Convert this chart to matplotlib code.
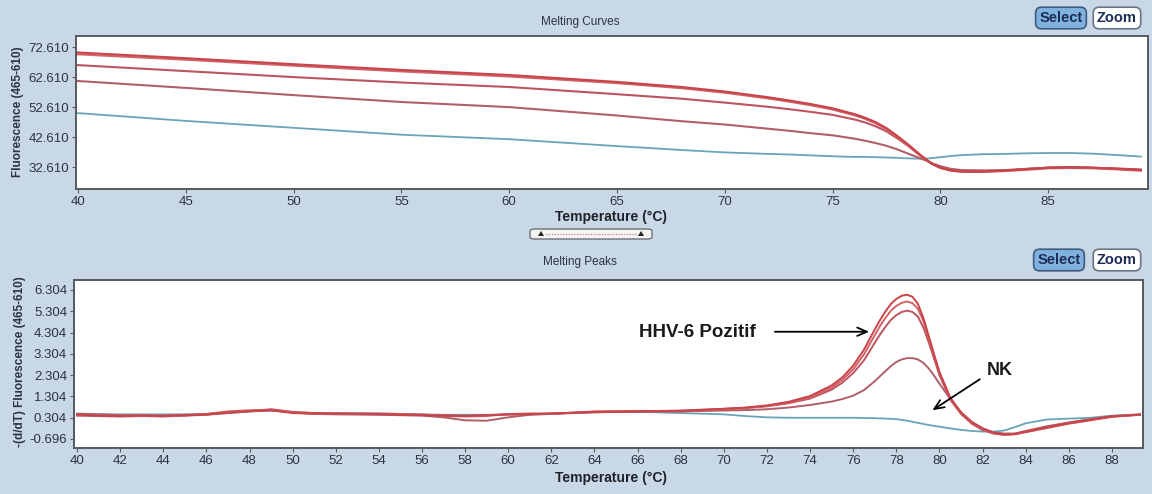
"""Melting curves / melting peaks panel (HHV-6 LightCycler style screenshot)."""

import matplotlib

matplotlib.use("Agg")
import matplotlib.pyplot as plt
from matplotlib.lines import Line2D
from matplotlib.patches import FancyBboxPatch, Polygon

# ---- data: melting curves (top panel) ----
temp_curves = [40, 45, 50, 55, 60, 65, 68, 70, 72, 73, 74, 75, 76, 76.5, 77, 77.5,
               78, 78.5, 79, 79.3, 79.6, 80, 80.5, 81, 82, 83, 84, 85, 86, 87, 88, 89.3]
curve_pos1 = [70.8, 68.9, 66.9, 65.0, 63.3, 61.0, 59.3, 57.8, 55.9, 54.8, 53.6, 52.2, 50.3, 49.1, 47.6, 45.6,
              43.0, 40.2, 37.1, 35.4, 33.8, 32.4, 31.5, 31.1, 31.1, 31.4, 31.9, 32.4, 32.5, 32.4, 32.1, 31.6]
curve_pos2 = [70.2, 68.4, 66.4, 64.5, 62.8, 60.6, 58.9, 57.4, 55.5, 54.4, 53.2, 51.8, 49.9, 48.7, 47.2, 45.2,
              42.7, 39.9, 36.9, 35.3, 33.7, 32.3, 31.4, 31.0, 31.0, 31.3, 31.7, 32.2, 32.3, 32.2, 31.9, 31.4]
curve_pos3 = [66.6, 64.6, 62.6, 60.8, 59.3, 56.9, 55.4, 54.1, 52.7, 51.9, 51.0, 50.0, 48.5, 47.5, 46.2, 44.5,
              42.2, 39.7, 36.8, 35.2, 33.7, 32.4, 31.5, 31.2, 31.2, 31.5, 32.0, 32.4, 32.6, 32.4, 32.1, 31.7]
curve_pos4 = [61.3, 59.0, 56.6, 54.3, 52.6, 49.8, 47.9, 46.8, 45.4, 44.7, 43.9, 43.2, 42.1, 41.4, 40.6, 39.7,
              38.5, 37.1, 35.7, 34.9, 33.9, 32.9, 32.0, 31.6, 31.5, 31.6, 32.0, 32.4, 32.5, 32.4, 32.2, 31.8]
curve_nk = [50.6, 48.0, 45.7, 43.4, 41.9, 39.6, 38.3, 37.5, 37.0, 36.8, 36.5, 36.2, 36.0, 36.0, 35.9, 35.8,
            35.7, 35.5, 35.4, 35.4, 35.6, 35.9, 36.3, 36.6, 36.9, 37.0, 37.2, 37.3, 37.3, 37.1, 36.7, 36.1]

# ---- data: melting peaks (bottom panel) ----
temp_peaks = [40, 41, 42, 43, 44, 45, 46, 47, 48, 49, 50, 51, 52,
              54, 56, 57, 58, 59, 60, 61, 62, 64, 66, 68,
              70, 71, 72, 73, 74, 75, 75.5, 76, 76.5,
              77, 77.25, 77.5, 77.75, 78, 78.25, 78.5, 78.75, 79, 79.25, 79.5, 79.75, 80,
              80.5, 81, 81.5, 82, 82.5, 83, 83.5,
              84, 85, 86, 87, 88, 89.3]
peak_pos1 = [0.45, 0.40, 0.38, 0.40, 0.38, 0.42, 0.45, 0.55, 0.62, 0.66, 0.52, 0.50, 0.50,
             0.48, 0.42, 0.40, 0.38, 0.42, 0.45, 0.48, 0.50, 0.58, 0.60, 0.62,
             0.72, 0.78, 0.88, 1.05, 1.32, 1.82, 2.20, 2.75, 3.50,
             4.45, 4.90, 5.30, 5.65, 5.88, 6.03, 6.08, 5.98, 5.65, 5.00, 4.15, 3.28, 2.45,
             1.25, 0.55, 0.10, -0.20, -0.40, -0.48, -0.46,
             -0.36, -0.15, 0.05, 0.20, 0.36, 0.44]
peak_pos2 = [0.42, 0.42, 0.40, 0.38, 0.40, 0.40, 0.48, 0.60, 0.65, 0.68, 0.55, 0.48, 0.48,
             0.50, 0.45, 0.38, 0.36, 0.38, 0.48, 0.50, 0.48, 0.60, 0.62, 0.60,
             0.70, 0.76, 0.85, 1.00, 1.25, 1.72, 2.08, 2.58, 3.28,
             4.18, 4.62, 5.00, 5.33, 5.55, 5.70, 5.76, 5.68, 5.42, 4.85, 4.05, 3.20, 2.40,
             1.20, 0.50, 0.05, -0.24, -0.42, -0.50, -0.48,
             -0.38, -0.18, 0.02, 0.18, 0.34, 0.44]
peak_pos3 = [0.48, 0.45, 0.42, 0.42, 0.40, 0.44, 0.46, 0.56, 0.60, 0.70, 0.58, 0.52, 0.50,
             0.46, 0.44, 0.42, 0.40, 0.42, 0.46, 0.46, 0.50, 0.56, 0.60, 0.64,
             0.72, 0.76, 0.84, 0.98, 1.20, 1.62, 1.95, 2.40, 3.00,
             3.82, 4.22, 4.58, 4.90, 5.12, 5.27, 5.33, 5.27, 5.05, 4.55, 3.85, 3.08, 2.30,
             1.15, 0.48, 0.02, -0.28, -0.44, -0.50, -0.46,
             -0.34, -0.12, 0.06, 0.22, 0.36, 0.45]
peak_pos4 = [0.40, 0.38, 0.36, 0.38, 0.36, 0.40, 0.44, 0.52, 0.60, 0.64, 0.55, 0.48, 0.46,
             0.44, 0.40, 0.32, 0.18, 0.16, 0.32, 0.44, 0.48, 0.56, 0.58, 0.60,
             0.64, 0.66, 0.70, 0.78, 0.90, 1.06, 1.18, 1.34, 1.60,
             2.02, 2.26, 2.50, 2.73, 2.92, 3.04, 3.10, 3.10, 3.04, 2.88, 2.62, 2.28, 1.90,
             1.18, 0.55, 0.10, -0.20, -0.38, -0.44, -0.44,
             -0.32, -0.10, 0.08, 0.24, 0.38, 0.46]
peak_nk = [0.50, 0.48, 0.46, 0.46, 0.46, 0.46, 0.48, 0.52, 0.60, 0.64, 0.56, 0.52, 0.52,
           0.50, 0.46, 0.44, 0.44, 0.44, 0.46, 0.48, 0.50, 0.56, 0.58, 0.52,
           0.46, 0.38, 0.32, 0.30, 0.30, 0.30, 0.30, 0.30, 0.29,
           0.28, 0.27, 0.26, 0.25, 0.24, 0.20, 0.16, 0.11, 0.06, 0.01, -0.04, -0.08, -0.12,
           -0.20, -0.27, -0.32, -0.35, -0.35, -0.30, -0.14,
           0.04, 0.22, 0.26, 0.30, 0.40, 0.45]

curve_yticks = [32.61, 42.61, 52.61, 62.61, 72.61]
curve_yticklabels = ["32.610", "42.610", "52.610", "62.610", "72.610"]
peak_yticks = [-0.696, 0.304, 1.304, 2.304, 3.304, 4.304, 5.304, 6.304]
peak_yticklabels = ["-0.696", "0.304", "1.304", "2.304", "3.304", "4.304", "5.304", "6.304"]

RED_COLORS = ["#c8444a", "#d26266", "#bd5560", "#b05f6a"]
NK_COLOR = "#6aa4b8"
BG = "#c9d8e7"
TEXT = "#2b3440"

W, H = 1152, 494

plt.rcParams["font.family"] = ["Liberation Sans", "DejaVu Sans"]


def fx(x):
    return x / W


def fy(y):
    return 1 - y / H


def _style_axes(ax, xticks, yticks, yticklabels):
    ax.set_facecolor("white")
    for sp in ax.spines.values():
        sp.set_color("#56595e")
        sp.set_linewidth(1.4)
    ax.set_xticks(xticks)
    ax.set_xticklabels([str(t) for t in xticks])
    ax.set_yticks(yticks)
    ax.set_yticklabels(yticklabels)
    ax.tick_params(direction="out", length=3, width=0.8, colors="#56595e",
                   labelcolor=TEXT, labelsize=9.5, pad=2)


def _button(x, y, label, fc, ec):
    fig.text(fx(x), fy(y), label, ha="center", va="center", fontsize=10.5,
             fontweight="bold", color="#1d2d55",
             bbox=dict(boxstyle="round,pad=0.26,rounding_size=0.4", fc=fc, ec=ec, lw=1.2))


fig = plt.figure(figsize=(W / 100, H / 100), dpi=100, facecolor=BG)

# ---- top: melting curves ----
ax1 = fig.add_axes([fx(76), fy(189), (1148 - 76) / W, (189 - 36) / H])
ax1.plot(temp_curves, curve_nk, color=NK_COLOR, lw=1.3)
for vals, c in zip([curve_pos4, curve_pos3, curve_pos2, curve_pos1], RED_COLORS[::-1]):
    ax1.plot(temp_curves, vals, color=c, lw=1.5)
ax1.set_xlim(39.91, 89.63)
ax1.set_ylim(25.3, 76.3)
_style_axes(ax1, list(range(40, 90, 5)), curve_yticks, curve_yticklabels)

fig.text(fx(580), fy(22), "Melting Curves", ha="center", va="center", fontsize=8.5, color=TEXT)
fig.text(fx(18), fy(112), "Fluorescence (465-610)", ha="center", va="center", rotation=90,
         fontsize=8.5, fontweight="bold", color=TEXT)
fig.text(fx(611), fy(217), "Temperature (°C)", ha="center", va="center", fontsize=10,
         fontweight="bold", color="#1f2228")
_button(1061, 18, "Select", "#7fb2df", "#3d5a80")
_button(1117, 18, "Zoom", "white", "#6b7480")

# slider between the panels
fig.patches.append(FancyBboxPatch((fx(530), fy(239)), fx(652) - fx(530), fy(229) - fy(239),
                                  boxstyle="round,pad=0,rounding_size=0.004",
                                  transform=fig.transFigure, fc="#f4f4f4", ec="#6b6f75", lw=1.0))
fig.lines.append(Line2D([fx(546), fx(637)], [fy(234), fy(234)], transform=fig.transFigure,
                        color="#c27070", lw=0.8, ls=(0, (1, 1.5))))
for cx in (541, 641):
    fig.patches.append(Polygon([(fx(cx - 3), fy(236)), (fx(cx + 3), fy(236)), (fx(cx), fy(231))],
                               closed=True, transform=fig.transFigure, fc="#222", ec="none"))

# ---- bottom: melting peaks ----
ax2 = fig.add_axes([fx(74), fy(448), (1143 - 74) / W, (448 - 280) / H])
ax2.plot(temp_peaks, peak_nk, color=NK_COLOR, lw=1.3)
for vals, c in zip([peak_pos4, peak_pos3, peak_pos2, peak_pos1], RED_COLORS[::-1]):
    ax2.plot(temp_peaks, vals, color=c, lw=1.4)
ax2.set_xlim(39.86, 89.44)
ax2.set_ylim(-1.12, 6.77)
_style_axes(ax2, list(range(40, 89, 2)), peak_yticks, peak_yticklabels)

ax2.annotate("", xy=(76.87, 4.34), xytext=(72.24, 4.34),
             arrowprops=dict(arrowstyle="->,head_length=0.7,head_width=0.3", color="black", lw=1.3))
ax2.text(71.49, 4.30, "HHV-6 Pozitif", ha="right", va="center", fontsize=13.5,
         fontweight="bold", color="#1a1a1a")
ax2.annotate("", xy=(79.56, 0.58), xytext=(81.98, 2.18),
             arrowprops=dict(arrowstyle="->,head_length=0.7,head_width=0.3", color="black", lw=1.3))
ax2.text(82.81, 2.51, "NK", ha="center", va="center", fontsize=13,
         fontweight="bold", color="#1a1a1a")

fig.text(fx(580), fy(262), "Melting Peaks", ha="center", va="center", fontsize=8.5, color=TEXT)
fig.text(fx(20), fy(362), "-(d/dT) Fluorescence (465-610)", ha="center", va="center", rotation=90,
         fontsize=8.5, fontweight="bold", color=TEXT)
fig.text(fx(611), fy(478), "Temperature (°C)", ha="center", va="center", fontsize=10,
         fontweight="bold", color="#1f2228")
_button(1059, 260, "Select", "#7fb2df", "#3d5a80")
_button(1117, 260, "Zoom", "white", "#6b7480")

fig.savefig("out.png", dpi=100, facecolor=BG)
